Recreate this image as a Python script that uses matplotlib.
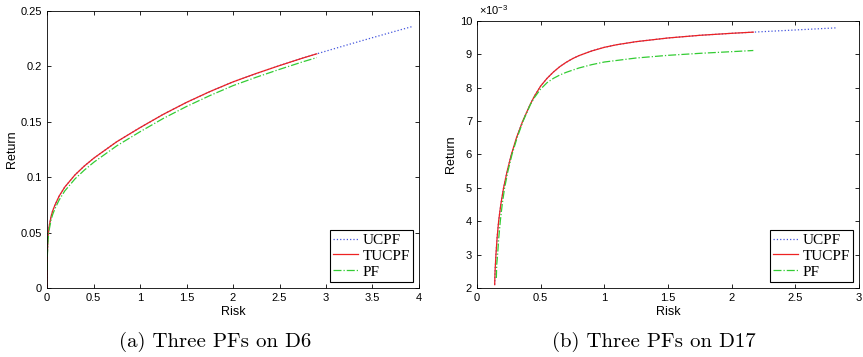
import matplotlib.pyplot as plt
import numpy as np

# (a) D6 -- UCPF runs further than TUCPF, TUCPF is the first part of it
d6_risk_u = [0, 0.003, 0.01, 0.022, 0.043, 0.06, 0.086, 0.13, 0.19, 0.30, 0.4, 0.505, 0.75, 1.0,
             1.25, 1.5, 1.75, 2.0, 2.25, 2.5, 2.75, 2.9, 3.25, 3.5, 3.75, 3.93]
d6_ret_u = [0, 0.03, 0.046, 0.0553, 0.0644, 0.0695, 0.075, 0.0829, 0.091, 0.102, 0.110, 0.1173,
            0.132, 0.1447, 0.1567, 0.1675, 0.1772, 0.186, 0.1936, 0.2007, 0.2075, 0.2113,
            0.2199, 0.2259, 0.2318, 0.236]
d6_risk_t = d6_risk_u[:22]
d6_ret_t = d6_ret_u[:22]
d6_risk_pf = [0, 0.003, 0.01, 0.022, 0.043, 0.06, 0.086, 0.13, 0.19, 0.30, 0.4, 0.505, 0.75, 1.0,
              1.25, 1.5, 1.75, 2.0, 2.25, 2.5, 2.75, 2.9]
d6_ret_pf = [0.016, 0.028, 0.043, 0.052, 0.0612, 0.0662, 0.0717, 0.0794, 0.0875, 0.0984, 0.1063,
             0.1136, 0.1283, 0.141, 0.153, 0.1638, 0.1736, 0.1826, 0.1902, 0.1973, 0.2041, 0.2079]

# (b) D17, returns in units of 1e-3
d17_risk_u = [0.139, 0.142, 0.149, 0.158, 0.170, 0.187, 0.209, 0.237, 0.27, 0.31, 0.359, 0.418, 0.45,
              0.5, 0.55, 0.6, 0.65, 0.7, 0.75, 0.8, 0.9, 1.0, 1.1, 1.25, 1.5, 1.75, 2.0, 2.17,
              2.5, 2.83]
d17_ret_u = [2.1, 2.5, 3.0, 3.5, 4.0, 4.5, 5.0, 5.5, 6.0, 6.5, 7.0, 7.5, 7.74,
             8.05, 8.28, 8.47, 8.63, 8.76, 8.87, 8.96, 9.10, 9.21, 9.29, 9.38, 9.49, 9.57, 9.63, 9.665,
             9.73, 9.795]
d17_risk_t = d17_risk_u[:28]
d17_ret_t = d17_ret_u[:28]
d17_risk_pf = [0.152, 0.155, 0.162, 0.171, 0.183, 0.198, 0.217, 0.243, 0.275, 0.315, 0.362, 0.42, 0.45,
               0.5, 0.55, 0.6, 0.65, 0.7, 0.8, 0.9, 1.0, 1.25, 1.5, 1.75, 2.0, 2.17]
d17_ret_pf = [2.3, 2.7, 3.0, 3.5, 4.0, 4.5, 5.0, 5.5, 6.0, 6.5, 7.0, 7.5, 7.70,
              7.96, 8.15, 8.28, 8.38, 8.46, 8.59, 8.69, 8.77, 8.89, 8.97, 9.03, 9.08, 9.115]
d17_scale = 1e-3

labels = ['UCPF', 'TUCPF', 'PF']
captions = ['(a) Three PFs on D6', '(b) Three PFs on D17']

plt.rcParams['font.family'] = ['Liberation Sans', 'DejaVu Sans']
plt.rcParams['mathtext.fontset'] = 'custom'
plt.rcParams['mathtext.rm'] = 'Liberation Sans'

fig = plt.figure(figsize=(8.63, 3.57), dpi=100)
ax1 = fig.add_axes([0.0545, 0.1933, 0.431, 0.776])
ax2 = fig.add_axes([0.5527, 0.1933, 0.4427, 0.748])


def style(ax):
    ax.tick_params(direction='in', top=True, right=True, labelsize=8, length=3, width=0.6)
    for s in ax.spines.values():
        s.set_linewidth(0.6)
    ax.set_xlabel('Risk', fontsize=9, labelpad=2)
    ax.set_ylabel('Return', fontsize=9, labelpad=2)
    leg = ax.legend(loc='lower right', prop={'family': 'Liberation Serif', 'size': 11},
                    fancybox=False, edgecolor='black', framealpha=1, borderpad=0.2,
                    handlelength=1.6, handletextpad=0.3, labelspacing=0.15,
                    borderaxespad=0.4)
    leg.get_frame().set_linewidth(0.8)


ax1.plot(d6_risk_u, d6_ret_u, ':', color='#4455dd', lw=0.9, label=labels[0])
ax1.plot(d6_risk_t, d6_ret_t, '-', color='#ee2222', lw=0.9, label=labels[1])
ax1.plot(d6_risk_pf, d6_ret_pf, '-.', color='#33cc33', lw=0.9, label=labels[2])
ax1.set_xlim(0, 4)
ax1.set_ylim(0, 0.25)
ax1.set_xticks(np.arange(0, 4.01, 0.5))
ax1.set_xticklabels(['0', '0.5', '1', '1.5', '2', '2.5', '3', '3.5', '4'])
ax1.set_yticks([0, 0.05, 0.1, 0.15, 0.2, 0.25])
ax1.set_yticklabels(['0', '0.05', '0.1', '0.15', '0.2', '0.25'])
style(ax1)

ax2.plot(d17_risk_u, np.array(d17_ret_u) * d17_scale, ':', color='#4455dd', lw=0.9, label=labels[0])
ax2.plot(d17_risk_t, np.array(d17_ret_t) * d17_scale, '-', color='#ee2222', lw=0.9, label=labels[1])
ax2.plot(d17_risk_pf, np.array(d17_ret_pf) * d17_scale, '-.', color='#33cc33', lw=0.9, label=labels[2])
ax2.set_xlim(0, 3)
ax2.set_ylim(0.002, 0.010)
ax2.set_xticks(np.arange(0, 3.01, 0.5))
ax2.set_xticklabels(['0', '0.5', '1', '1.5', '2', '2.5', '3'])
ax2.set_yticks(np.arange(2, 10.5, 1) * d17_scale)
ax2.set_yticklabels([str(v) for v in range(2, 11)])
ax2.text(0.005, 1.015, r'$\times10^{-3}$', transform=ax2.transAxes, fontsize=8, va='bottom', ha='left')
style(ax2)

fig.text(0.249, 0.042, captions[0], family='cmr10', fontsize=15, ha='center', va='center')
fig.text(0.758, 0.042, captions[1], family='cmr10', fontsize=15, ha='center', va='center')

fig.savefig('out.png', dpi=100)
